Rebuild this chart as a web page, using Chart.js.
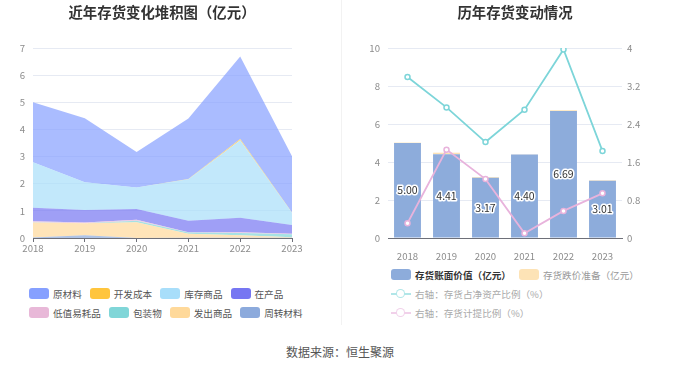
<!DOCTYPE html>
<html>
<head>
<meta charset="utf-8">
<script src="https://cdn.jsdelivr.net/npm/chart.js@4.4.0/dist/chart.umd.min.js"></script>
<style>
body { margin: 0; background: #fff; font-family: "Noto Sans CJK SC", sans-serif; }
#wrap { position: relative; width: 680px; height: 367px; overflow: hidden; background: #fff; }
.box { position: absolute; top: 0; width: 340px; height: 262px; }
.title { position: absolute; top: 3px; font-size: 14.4px; font-weight: bold; color: #333; transform: translateX(-50%); white-space: nowrap; line-height: 18px; }
.legend { position: absolute; font-size: 9.6px; color: #666; }
.row { display: flex; align-items: center; height: 19px; white-space: nowrap; }
.item { display: flex; align-items: center; margin-right: 8px; }
.sw { width: 20px; height: 11px; border-radius: 3px; margin-right: 4px; }
.ln { position: relative; width: 20px; height: 11px; margin-right: 4px; }
.ln::before { content: ""; position: absolute; left: 0; right: 0; top: 5px; height: 1.5px; background: var(--c); }
.ln::after { content: ""; position: absolute; left: 5px; top: 0.5px; width: 7px; height: 7px; border: 1.5px solid var(--c); border-radius: 50%; background: #fff; }
#divider { position: absolute; left: 341px; top: 0; width: 1px; height: 325px; background: #f2f2f2; }
#source { position: absolute; top: 343px; left: 0; width: 680px; text-align: center; font-size: 12px; color: #555; }
</style>
</head>
<body>
<div id="wrap">
  <div class="box" style="left:0"><canvas id="stackChart" width="340" height="262"></canvas></div>
  <div class="box" style="left:340px"><canvas id="invChart" width="340" height="262"></canvas></div>
  <div class="title" style="left:162px">近年存货变化堆积图（亿元）</div>
  <div class="title" style="left:515px">历年存货变动情况</div>
  <div class="legend" id="stackLegend" style="left:29px;top:284px"></div>
  <div class="legend" id="invLegend" style="left:391px;top:265px"></div>
  <div id="divider"></div>
  <div id="source">数据来源：恒生聚源</div>
</div>
<script>
// Data
const years = ['2018', '2019', '2020', '2021', '2022', '2023'];

// stacked inventory parts (亿元)
const rawMaterial   = [2.21, 2.36, 1.31, 2.23, 3.04, 2.07]; // 原材料
const devCost       = [0.00, 0.00, 0.00, 0.01, 0.05, 0.01]; // 开发成本
const finishedGoods = [1.68, 1.02, 0.79, 1.52, 2.85, 0.45]; // 库存商品
const wip           = [0.49, 0.46, 0.40, 0.43, 0.54, 0.32]; // 在产品
const lowValue      = [0.04, 0.03, 0.03, 0.01, 0.03, 0.02]; // 低值易耗品
const packaging     = [0.01, 0.00, 0.06, 0.04, 0.08, 0.11]; // 包装物
const shipped       = [0.55, 0.44, 0.58, 0.15, 0.09, 0.02]; // 发出商品
const turnover      = [0.02, 0.10, 0.00, 0.01, 0.01, 0.01]; // 周转材料

// right chart
const bookValue      = [5.00, 4.41, 3.17, 4.40, 6.69, 3.01]; // 存货账面价值
const provision      = [0.02, 0.08, 0.04, 0.01, 0.04, 0.03]; // 存货跌价准备
const netAssetRatio  = [3.39, 2.75, 2.02, 2.70, 3.97, 1.83]; // 存货占净资产比例 %
const provisionRatio = [0.31, 1.86, 1.24, 0.10, 0.57, 0.94]; // 存货计提比例 %

const leftTicks = { min: 0, max: 7, step: 1 };
const barTicks = { min: 0, max: 10, step: 2 };
const ratioTicks = { min: 0, max: 4, step: 0.8 };

const FONT = '"Noto Sans CJK SC", sans-serif';
Chart.defaults.font.family = FONT;
Chart.defaults.animation = false;

// legend order, top of the stack first
const stackSeries = [
    { name: '原材料', data: rawMaterial, color: [134, 160, 255] },
    { name: '开发成本', data: devCost, color: [255, 197, 61] },
    { name: '库存商品', data: finishedGoods, color: [168, 222, 250] },
    { name: '在产品', data: wip, color: [118, 118, 242] },
    { name: '低值易耗品', data: lowValue, color: [232, 184, 216] },
    { name: '包装物', data: packaging, color: [128, 214, 216] },
    { name: '发出商品', data: shipped, color: [255, 217, 154] },
    { name: '周转材料', data: turnover, color: [140, 170, 220] }
];

const rgba = (c, a) => `rgba(${c[0]},${c[1]},${c[2]},${a})`;

// bottom layer first for stacking
const stackDatasets = stackSeries.slice().reverse().map((s, i) => ({
    label: s.name,
    data: s.data,
    backgroundColor: rgba(s.color, 0.7),
    borderColor: 'rgba(0,0,0,0)',
    borderWidth: 0,
    pointRadius: 0,
    fill: i === 0 ? 'origin' : '-1',
    tension: 0
}));

const axisColor = '#6E7079';
const tickColor = '#8c8c8c';
const gridColor = '#e6eaf3';

new Chart(document.getElementById('stackChart'), {
    type: 'line',
    data: { labels: years, datasets: stackDatasets },
    options: {
        responsive: false,
        layout: { padding: { top: 48, right: 48, left: 0, bottom: 0 } },
        plugins: { legend: { display: false }, tooltip: { enabled: false } },
        scales: {
            x: {
                offset: false,
                afterFit: s => { s.height = 24; },
                border: { color: axisColor },
                grid: { drawOnChartArea: false, tickLength: 4, color: axisColor },
                ticks: { color: tickColor, font: { size: 9.6 }, padding: 1, maxRotation: 0 }
            },
            y: {
                stacked: true,
                min: leftTicks.min, max: leftTicks.max,
                afterFit: s => { s.width = 33; },
                border: { display: false },
                grid: { color: gridColor, drawTicks: false },
                ticks: { stepSize: leftTicks.step, color: tickColor, font: { size: 9.6 }, padding: 8 }
            }
        }
    }
});

// bar value labels
const barLabels = {
    id: 'barLabels',
    afterDatasetsDraw(chart) {
        const meta = chart.getDatasetMeta(0);
        const ctx = chart.ctx;
        ctx.save();
        ctx.font = '10.5px ' + FONT;
        ctx.textAlign = 'center';
        ctx.textBaseline = 'middle';
        ctx.lineJoin = 'round';
        meta.data.forEach((bar, i) => {
            const txt = bookValue[i].toFixed(2);
            const y = (bar.y + bar.base) / 2;
            ctx.strokeStyle = '#fff';
            ctx.lineWidth = 3;
            ctx.strokeText(txt, bar.x, y);
            ctx.fillStyle = '#333';
            ctx.fillText(txt, bar.x, y);
        });
        ctx.restore();
    }
};

const barColor = '#8dacdb';
const provColor = '#fde3b6';
const cyan = '#7dd5d9';
const pink = '#e8b3dc';

new Chart(document.getElementById('invChart'), {
    type: 'bar',
    data: {
        labels: years,
        datasets: [
            { label: '存货账面价值（亿元）', data: bookValue, backgroundColor: barColor, yAxisID: 'y', stack: 's', order: 2, barPercentage: 0.69, categoryPercentage: 1 },
            { label: '存货跌价准备（亿元）', data: provision, backgroundColor: provColor, yAxisID: 'y', stack: 's', order: 2, barPercentage: 0.69, categoryPercentage: 1 },
            { type: 'line', label: '右轴：存货占净资产比例（%）', data: netAssetRatio, yAxisID: 'y1', borderColor: cyan, borderWidth: 1.8, pointRadius: 2.5, pointBorderWidth: 1.5, pointBackgroundColor: '#fff', pointBorderColor: cyan, order: 0, tension: 0 },
            { type: 'line', label: '右轴：存货计提比例（%）', data: provisionRatio, yAxisID: 'y1', borderColor: pink, borderWidth: 1.8, pointRadius: 2.5, pointBorderWidth: 1.5, pointBackgroundColor: '#fff', pointBorderColor: pink, order: 1, tension: 0 }
        ]
    },
    options: {
        responsive: false,
        layout: { padding: { top: 48, right: 0, left: 0, bottom: 0 } },
        plugins: { legend: { display: false }, tooltip: { enabled: false } },
        scales: {
            x: {
                stacked: true,
                afterFit: s => { s.height = 24; },
                border: { color: axisColor },
                grid: { display: false },
                ticks: { color: tickColor, font: { size: 9.6 }, padding: 5, maxRotation: 0 }
            },
            y: {
                stacked: true,
                position: 'left',
                min: barTicks.min, max: barTicks.max,
                afterFit: s => { s.width = 48; },
                border: { display: false },
                grid: { color: gridColor, drawTicks: false },
                ticks: { stepSize: barTicks.step, color: tickColor, font: { size: 9.6 }, padding: 8 }
            },
            y1: {
                position: 'right',
                min: ratioTicks.min, max: ratioTicks.max,
                afterFit: s => { s.width = 58; },
                border: { display: false },
                grid: { drawOnChartArea: false, drawTicks: false },
                ticks: {
                    stepSize: ratioTicks.step, color: tickColor, font: { size: 9.6 }, padding: 5,
                    callback: v => String(Math.round(v * 10) / 10)
                }
            }
        }
    },
    plugins: [barLabels]
});

// legends
function buildLegend(el, rows) {
    rows.forEach(r => {
        const row = document.createElement('div');
        row.className = 'row';
        r.forEach(it => {
            const item = document.createElement('div');
            item.className = 'item';
            const icon = document.createElement('span');
            if (it.line) {
                icon.className = 'ln';
                icon.style.setProperty('--c', it.color);
            } else {
                icon.className = 'sw';
                icon.style.background = it.color;
            }
            const txt = document.createElement('span');
            txt.innerText = it.name;
            if (it.textColor) txt.style.color = it.textColor;
            if (it.bold) txt.style.fontWeight = 'bold';
            item.appendChild(icon);
            item.appendChild(txt);
            row.appendChild(item);
        });
        el.appendChild(row);
    });
}

const stackItems = stackSeries.map(s => ({ name: s.name, color: rgba(s.color, 1), textColor: '#555' }));
buildLegend(document.getElementById('stackLegend'), [stackItems.slice(0, 4), stackItems.slice(4)]);

buildLegend(document.getElementById('invLegend'), [
    [
        { name: '存货账面价值（亿元）', color: barColor, textColor: '#333', bold: true },
        { name: '存货跌价准备（亿元）', color: provColor, textColor: '#999' }
    ],
    [{ name: '右轴：存货占净资产比例（%）', color: 'rgba(125,213,217,0.6)', line: true, textColor: '#aaa' }],
    [{ name: '右轴：存货计提比例（%）', color: 'rgba(232,179,220,0.6)', line: true, textColor: '#aaa' }]
]);
</script>
</body>
</html>
